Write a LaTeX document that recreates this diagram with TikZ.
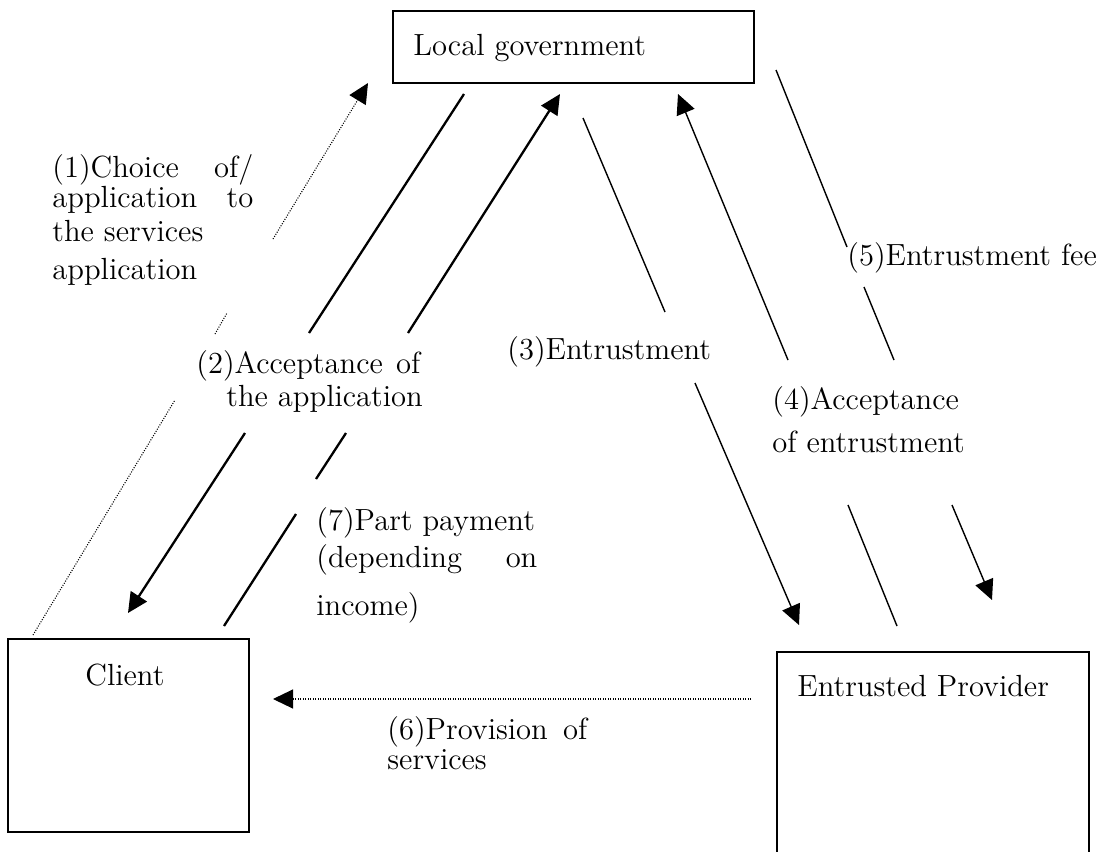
\documentclass[tikz,border=0pt]{standalone}
\usepackage{fontspec}
\newfontfamily\reffont{lmroman12-regular}[Extension=.otf]
\usetikzlibrary{arrows.meta}
\begin{document}
\begin{tikzpicture}[x=0.5pt,y=-0.5pt,
  box/.style={draw, line width=0.9pt, rectangle, inner sep=0pt, anchor=north west},
  lbl/.style={anchor=base west, inner sep=0pt, font=\reffont\fontsize{15.3}{18}\selectfont},
  thk/.style={line width=1.15pt},
  thn/.style={line width=0.7pt},
  dotln/.style={line width=0.55pt, dash pattern=on 0.5pt off 0.75pt},
  tip/.style={-{Triangle[length=10pt,width=9.5pt]}}
]
\useasboundingbox (0,0) rectangle (1120,852);
\clip (0,0) rectangle (1120,852);

% boxes
\node[box, minimum width=180.5pt, minimum height=36pt] (lg) at (392,10) {};
\node[box, minimum width=120.5pt, minimum height=96.5pt] (cl) at (7,638) {};
\node[box, minimum width=156pt, minimum height=114.5pt] (ep) at (776,651) {};

\node[lbl] (lgt) at (413,55) {Local government};
\node[lbl] (clt) at (85,685) {Client};
\node[lbl] (ept) at (797,696) {Entrusted Provider};

% (1) dotted arrow
\coordinate (d1a) at (33,635);
\coordinate (d1b) at (175,400);
\coordinate (d1c) at (215,334);
\coordinate (d1d) at (227,313);
\coordinate (d1e) at (273,239);
\coordinate (d1f) at (368,83);
\draw[dotln] (d1a) -- (d1b);
\draw[dotln] (d1c) -- (d1d);
\draw[dotln,tip] (d1e) -- (d1f);

% (2) down to client
\coordinate (a2a) at (464,94);
\coordinate (a2b) at (309,333);
\coordinate (a2c) at (245,433);
\coordinate (a2d) at (128,613);
\draw[thk] (a2a) -- (a2b);
\draw[thk,tip] (a2c) -- (a2d);

% up to local government (and (7))
\coordinate (u1) at (224,626);
\coordinate (u2) at (296,514);
\coordinate (u3) at (316,479);
\coordinate (u4) at (346,433);
\coordinate (u5) at (408,333);
\coordinate (u6) at (560,94);
\draw[thk] (u1) -- (u2);
\draw[thk] (u3) -- (u4);
\draw[thk,tip] (u5) -- (u6);

% (3)
\coordinate (e1) at (583,118);
\coordinate (e2) at (665,312);
\coordinate (e3) at (695,383);
\coordinate (e4) at (799,625);
\draw[thn] (e1) -- (e2);
\draw[thn,tip] (e3) -- (e4);

% (4)
\coordinate (f1) at (897,626);
\coordinate (f2) at (848,505);
\coordinate (f3) at (788,360);
\coordinate (f4) at (678,94);
\draw[thn] (f1) -- (f2);
\draw[thn,tip] (f3) -- (f4);

% (5)
\coordinate (g1) at (776,70);
\coordinate (g2) at (847,247);
\coordinate (g3) at (864,287);
\coordinate (g4) at (894,360);
\coordinate (g5) at (952,505);
\coordinate (g6) at (992,600);
\draw[thn] (g1) -- (g2);
\draw[thn] (g3) -- (g4);
\draw[thn,tip] (g5) -- (g6);

% (6)
\coordinate (h1) at (751,699);
\coordinate (h2) at (273,699);
\draw[dotln,tip] (h1) -- (h2);

% labels
\node[lbl] (t1a) at (52,177) {\makebox[100.5pt][s]{(1)Choice of/}};
\node[lbl] (t1b) at (52,207) {\makebox[100.5pt][s]{application to}};
\node[lbl] (t1c) at (52,241) {the services};
\node[lbl] (t1d) at (52,279) {application};

\node[lbl] (t2a) at (196,373) {\makebox[112pt][s]{(2)Acceptance of}};
\node[lbl] (t2b) at (226,406) {the application};

\node[lbl] (t3) at (507,359) {(3)Entrustment};

\node[lbl] (t4a) at (772,409) {(4)Acceptance};
\node[lbl] (t4b) at (772,452) {of entrustment};

\node[lbl] (t5) at (847,265) {(5)Entrustment fee};

\node[lbl] (t6a) at (387,739) {\makebox[100pt][s]{(6)Provision of}};
\node[lbl] (t6b) at (387,769) {services};

\node[lbl] (t7a) at (316,530) {(7)Part payment};
\node[lbl] (t7b) at (316,567) {\makebox[110.5pt][s]{(depending on}};
\node[lbl] (t7c) at (316,615) {income)};
\end{tikzpicture}
\end{document}
